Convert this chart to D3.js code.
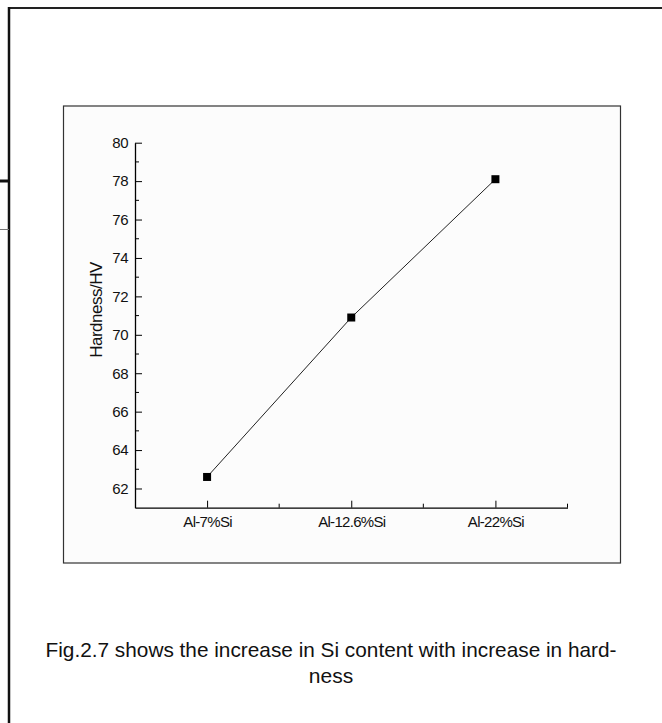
<!DOCTYPE html>
<html>
<head>
<meta charset="utf-8">
<script src="https://cdn.jsdelivr.net/npm/d3@7/dist/d3.min.js"></script>
<style>
html,body{margin:0;padding:0;background:#fff;}
svg{display:block;}
text{font-family:"Liberation Sans",Arial,sans-serif;fill:#111;}
</style>
</head>
<body>
<svg id="c" width="662" height="723"></svg>
<script>
const categories = ["Al-7%Si", "Al-12.6%Si", "Al-22%Si"];
const hardness = [62.6, 70.9, 78.1];
const yMajorTicks = [62, 64, 66, 68, 70, 72, 74, 76, 78, 80];
const yMinorTicks = [63, 65, 67, 69, 71, 73, 75, 77, 79];
const xMinorTicks = [1.5, 2.5, 3.5];
const yTitle = "Hardness/HV";
const captionLines = ["Fig.2.7 shows the increase in Si content with increase in hard-", "ness"];

const svg = d3.select("#c");

// page frame
svg.append("line").attr("x1", 8).attr("x2", 662).attr("y1", 8).attr("y2", 8)
  .attr("stroke", "#222").attr("stroke-width", 2);
svg.append("line").attr("x1", 9).attr("x2", 9).attr("y1", 7).attr("y2", 723)
  .attr("stroke", "#111").attr("stroke-width", 2.5);
svg.append("line").attr("x1", 0).attr("x2", 9).attr("y1", 181).attr("y2", 181)
  .attr("stroke", "#111").attr("stroke-width", 3);
svg.append("line").attr("x1", 0).attr("x2", 9).attr("y1", 229.5).attr("y2", 229.5)
  .attr("stroke", "#777").attr("stroke-width", 1);

// inner chart box
svg.append("rect").attr("x", 63.5).attr("y", 106).attr("width", 557).attr("height", 457)
  .attr("fill", "#fcfcfc").attr("stroke", "#333").attr("stroke-width", 1.2);

const x = d3.scaleLinear().domain([0.5, 3.5]).range([135, 567.5]);
const y = d3.scaleLinear().domain([61, 80]).range([507.7, 142.7]);

// y axis
const gy = svg.append("g").attr("transform", "translate(135,0)")
  .call(d3.axisLeft(y).tickValues(yMajorTicks).tickFormat(d3.format("d"))
    .tickSizeInner(-7).tickSizeOuter(0).tickPadding(7));
gy.attr("font-size", null).attr("font-family", null);
gy.selectAll("text").style("font-size", "15px").style("letter-spacing", "-0.5px")
  .attr("fill", "#111");
gy.append("g").selectAll("line").data(yMinorTicks).join("line")
  .attr("x1", 0).attr("x2", 4).attr("y1", d => y(d)).attr("y2", d => y(d))
  .attr("stroke", "#000");

// x axis
const gx = svg.append("g").attr("transform", `translate(0,${y(61)})`)
  .call(d3.axisBottom(x).tickValues([1, 2, 3]).tickFormat(d => categories[d - 1])
    .tickSizeInner(-7).tickSizeOuter(0).tickPadding(9));
gx.attr("font-size", null).attr("font-family", null);
gx.selectAll("text").style("font-size", "15px").style("letter-spacing", "-0.7px")
  .attr("fill", "#111");
gx.append("g").selectAll("line").data(xMinorTicks).join("line")
  .attr("x1", d => x(d)).attr("x2", d => x(d)).attr("y1", 0).attr("y2", -4)
  .attr("stroke", "#000");
svg.selectAll(".domain").attr("stroke", "#000").attr("stroke-width", 1.3);

// y title
svg.append("text")
  .attr("transform", `translate(102,310) rotate(-90)`)
  .attr("text-anchor", "middle")
  .style("font-size", "17px").style("letter-spacing", "-0.5px")
  .text(yTitle);

// data line + markers
const data = categories.map((c, i) => ({ c, i: i + 1, v: hardness[i] }));
svg.append("path").datum(data)
  .attr("d", d3.line().x(d => x(d.i)).y(d => y(d.v)))
  .attr("fill", "none").attr("stroke", "#222").attr("stroke-width", 1);
svg.selectAll("rect.pt").data(data).join("rect").attr("class", "pt")
  .attr("x", d => x(d.i) - 4).attr("y", d => y(d.v) - 4)
  .attr("width", 8).attr("height", 8).attr("fill", "#000");

// caption
svg.append("g").selectAll("text").data(captionLines).join("text")
  .attr("x", 331).attr("y", (d, i) => 657 + i * 26)
  .attr("text-anchor", "middle")
  .style("font-size", "21px")
  .attr("textLength", (d, i) => i === 0 ? 571 : null)
  .attr("lengthAdjust", "spacingAndGlyphs")
  .text(d => d);
</script>
</body>
</html>
